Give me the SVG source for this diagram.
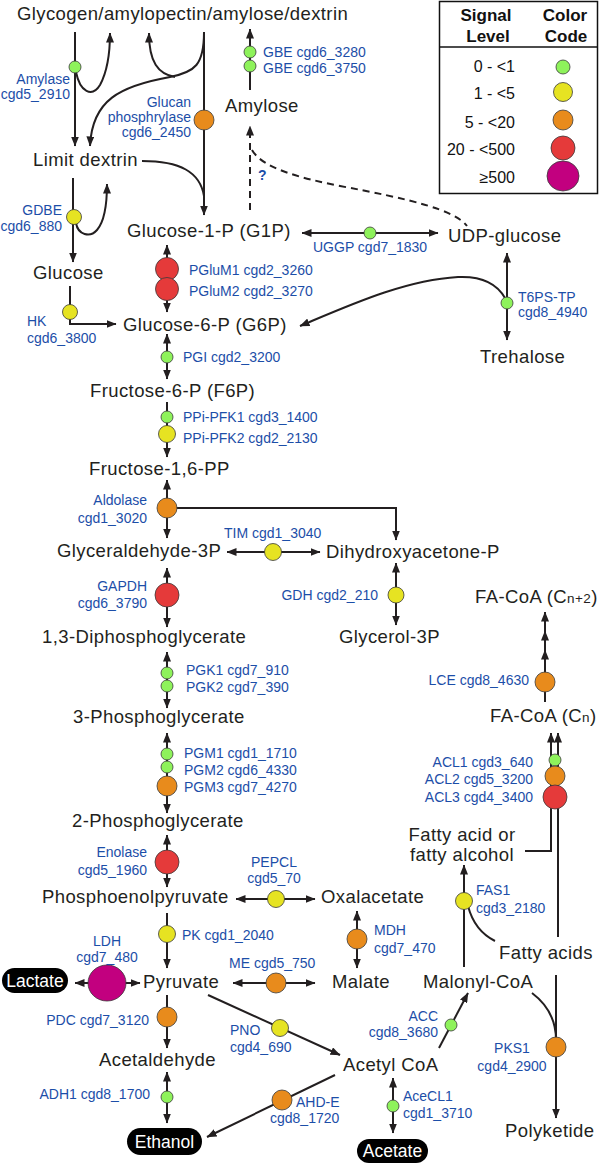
<svg xmlns="http://www.w3.org/2000/svg" width="600" height="1167" viewBox="0 0 600 1167">
<style>
.m{font-family:"Liberation Sans",Arial,sans-serif;font-size:18.5px;letter-spacing:0.4px;fill:#231f20}
.e{font-family:"Liberation Sans",Arial,sans-serif;font-size:14px;fill:#1c4ea8}
.lg{font-family:"Liberation Sans",Arial,sans-serif;font-size:16px;fill:#111}
.lh{font-family:"Liberation Sans",Arial,sans-serif;font-size:17px;font-weight:bold;fill:#111}
.pt{font-family:"Liberation Sans",Arial,sans-serif;font-size:17.5px;fill:#fff}
.ln{fill:none;stroke:#231f20;stroke-width:2}
.a{marker-end:url(#ah)}
.b{marker-start:url(#ah);marker-end:url(#ah)}
.d{stroke-dasharray:7 5}
.g{fill:#8ef25b;stroke:#3a3a3a;stroke-width:0.8}
.y{fill:#e6e322;stroke:#3a3a3a;stroke-width:0.8}
.o{fill:#e88b1c;stroke:#3a3a3a;stroke-width:0.8}
.r{fill:#e53a3a;stroke:#3a3a3a;stroke-width:0.8}
.p{fill:#c2007f;stroke:#3a3a3a;stroke-width:0.8}
</style>
<defs>
<marker id="ah" viewBox="0 0 10 8" refX="9.5" refY="4" markerWidth="10" markerHeight="8" markerUnits="userSpaceOnUse" orient="auto-start-reverse"><path d="M0,0 L10,4 L0,8 z" fill="#231f20"/></marker>
</defs>
<rect width="600" height="1167" fill="#fff"/>

<g id="connectors">
<path class="ln a" d="M75,32 L75,146"/>
<path class="ln a" d="M76,72 C80,92 92,98 100,85 C107,72 110,55 110,33"/>
<path class="ln a" d="M204,32 L204,215"/>
<path class="ln a" d="M204,32 C204,65 195,72 170,77 C120,86 92,100 90,146"/>
<path class="ln a" d="M175,77 C158,74 149,62 149,33"/>
<path class="ln" d="M142,161 C180,161 200,172 204,196"/>
<path class="ln a" d="M250,90 L250,29"/>
<path class="ln a d" d="M250,210 L250,126"/>
<path class="ln d" d="M252,150 C262,168 300,178 340,186 C410,199 455,210 467,226"/>
<path class="ln a" d="M73,178 L73,262"/>
<path class="ln a" d="M76,223 C78,235 90,238 97,230 C104,222 107,205 107,184"/>
<path class="ln a" d="M70,286 L70,324 L116,324"/>
<path class="ln b" d="M167,245 L167,312"/>
<path class="ln b" d="M302,233 L438,233"/>
<path class="ln b" d="M507,253 L507,340"/>
<path class="ln a" d="M505,298 C496,282 480,276 458,277 C405,280 350,305 300,326"/>
<path class="ln b" d="M167,334 L167,379"/>
<path class="ln a" d="M167,402 L167,457"/>
<path class="ln b" d="M167,480 L167,538"/>
<path class="ln a" d="M167,508 L396,508 L396,540"/>
<path class="ln b" d="M227,552 L320,552"/>
<path class="ln b" d="M396,563 L396,625"/>
<path class="ln b" d="M167,568 L167,627"/>
<path class="ln b" d="M167,652 L167,708"/>
<path class="ln b" d="M167,733 L167,813"/>
<path class="ln b" d="M167,835 L167,887"/>
<path class="ln a" d="M167,913 L167,968"/>
<path class="ln b" d="M236,899 L315,899"/>
<path class="ln b" d="M233,983 L315,983"/>
<path class="ln b" d="M357,911 L357,968"/>
<path class="ln b" d="M75,983 L140,983"/>
<path class="ln a" d="M167,995 L167,1048"/>
<path class="ln b" d="M167,1072 L167,1123"/>
<path class="ln a" d="M208,995 L340,1055"/>
<path class="ln a" d="M335,1075 L207,1137"/>
<path class="ln b" d="M393,1078 L393,1133"/>
<path class="ln a" d="M439,1048 L468,993"/>
<path class="ln a" d="M464,967 L464,865"/>
<path class="ln" d="M468,906 C473,925 483,935 495,941"/>
<path class="ln" d="M532,993 C548,1005 556,1020 556,1040"/>
<path class="ln a" d="M556,975 L556,1118"/>
<path class="ln a" d="M525,851 L551,851 L551,733"/>
<path class="ln a" d="M558,937 L558,733"/>
<path class="ln a" d="M545,702 L545,650"/>
<path class="ln a" d="M545,650 L545,631"/>
<path class="ln a" d="M545,631 L545,612"/>
</g>

<g id="metabolites">
<text class="m" x="17" y="20">Glycogen/amylopectin/amylose/dextrin</text>
<text class="m" x="225" y="112">Amylose</text>
<text class="m" x="33" y="166">Limit dextrin</text>
<text class="m" x="127" y="237">Glucose-1-P (G1P)</text>
<text class="m" x="448" y="242">UDP-glucose</text>
<text class="m" x="33" y="279">Glucose</text>
<text class="m" x="123" y="331">Glucose-6-P (G6P)</text>
<text class="m" x="480" y="363">Trehalose</text>
<text class="m" x="90" y="397">Fructose-6-P (F6P)</text>
<text class="m" x="89" y="475">Fructose-1,6-PP</text>
<text class="m" x="57" y="557">Glyceraldehyde-3P</text>
<text class="m" x="326" y="558">Dihydroxyacetone-P</text>
<text class="m" x="475" y="603">FA-CoA (C<tspan font-size="13.5">n+2</tspan>)</text>
<text class="m" x="339" y="643">Glycerol-3P</text>
<text class="m" x="42" y="643">1,3-Diphosphoglycerate</text>
<text class="m" x="490" y="722">FA-CoA (C<tspan font-size="13.5">n</tspan>)</text>
<text class="m" x="73" y="723">3-Phosphoglycerate</text>
<text class="m" x="72" y="827">2-Phosphoglycerate</text>
<text class="m" x="462" y="841" text-anchor="middle" font-size="18">Fatty acid or</text>
<text class="m" x="462" y="861" text-anchor="middle" font-size="18">fatty alcohol</text>
<text class="m" x="42" y="903">Phosphoenolpyruvate</text>
<text class="m" x="321" y="903">Oxalacetate</text>
<text class="m" x="499" y="959">Fatty acids</text>
<text class="m" x="143" y="988">Pyruvate</text>
<text class="m" x="332" y="988">Malate</text>
<text class="m" x="423" y="988">Malonyl-CoA</text>
<text class="m" x="99" y="1066">Acetaldehyde</text>
<text class="m" x="343" y="1071">Acetyl CoA</text>
<text class="m" x="505" y="1137">Polyketide</text>
</g>

<g id="lactate"><rect x="2" y="968" width="66" height="25" rx="12.5" fill="#000"/><text class="pt" x="35" y="987" text-anchor="middle">Lactate</text></g>
<g id="ethanol"><rect x="127" y="1128" width="75" height="27" rx="13.5" fill="#000"/><text class="pt" x="164.5" y="1148" text-anchor="middle">Ethanol</text></g>
<g id="acetate"><rect x="357" y="1139" width="71" height="24" rx="12" fill="#000"/><text class="pt" x="392.5" y="1157" text-anchor="middle">Acetate</text></g>

<g id="amylase"><circle class="g" cx="75" cy="67" r="6"/><text class="e" x="70" y="84" text-anchor="end">Amylase</text><text class="e" x="70" y="99" text-anchor="end">cgd5_2910</text></g>
<g id="glucan-phosphorylase"><circle class="o" cx="204" cy="120" r="10"/><text class="e" x="191" y="107" text-anchor="end">Glucan</text><text class="e" x="191" y="122" text-anchor="end">phosphrylase</text><text class="e" x="191" y="137" text-anchor="end">cgd6_2450</text></g>
<g id="gbe"><circle class="g" cx="250" cy="52" r="6"/><circle class="g" cx="250" cy="66" r="6"/><text class="e" x="263" y="57">GBE cgd6_3280</text><text class="e" x="263" y="73">GBE cgd6_3750</text></g>
<g id="unknown"><text class="e" x="258" y="180" font-weight="bold">?</text></g>
<g id="gdbe"><circle class="y" cx="74" cy="217" r="7.5"/><text class="e" x="62" y="215" text-anchor="end">GDBE</text><text class="e" x="62" y="231" text-anchor="end">cgd6_880</text></g>
<g id="pglum"><circle class="r" cx="167" cy="269" r="11.5"/><circle class="r" cx="167" cy="289" r="11.5"/><text class="e" x="189" y="275">PGluM1 cgd2_3260</text><text class="e" x="189" y="296">PGluM2 cgd2_3270</text></g>
<g id="uggp"><circle class="g" cx="370" cy="233" r="6"/><text class="e" x="313" y="252">UGGP cgd7_1830</text></g>
<g id="t6ps"><circle class="g" cx="507" cy="303" r="6"/><text class="e" x="518" y="302">T6PS-TP</text><text class="e" x="518" y="317">cgd8_4940</text></g>
<g id="hk"><circle class="y" cx="70" cy="312" r="7.5"/><text class="e" x="27" y="326">HK</text><text class="e" x="27" y="343">cgd6_3800</text></g>
<g id="pgi"><circle class="g" cx="167" cy="357" r="6"/><text class="e" x="183" y="362">PGI cgd2_3200</text></g>
<g id="pfk"><circle class="g" cx="167" cy="417" r="6"/><circle class="y" cx="167" cy="434" r="8.5"/><text class="e" x="183" y="422">PPi-PFK1 cgd3_1400</text><text class="e" x="183" y="443">PPi-PFK2 cgd2_2130</text></g>
<g id="aldolase"><circle class="o" cx="167" cy="508" r="10"/><text class="e" x="147" y="505" text-anchor="end">Aldolase</text><text class="e" x="147" y="523" text-anchor="end">cgd1_3020</text></g>
<g id="tim"><circle class="y" cx="273" cy="552" r="8.5"/><text class="e" x="224" y="538">TIM cgd1_3040</text></g>
<g id="gdh"><circle class="y" cx="396" cy="595" r="8"/><text class="e" x="378" y="600" text-anchor="end">GDH cgd2_210</text></g>
<g id="gapdh"><circle class="r" cx="167" cy="595" r="12"/><text class="e" x="147" y="591" text-anchor="end">GAPDH</text><text class="e" x="147" y="608" text-anchor="end">cgd6_3790</text></g>
<g id="pgk"><circle class="g" cx="167" cy="673" r="6"/><circle class="g" cx="167" cy="686" r="6"/><text class="e" x="186" y="675">PGK1 cgd7_910</text><text class="e" x="186" y="692">PGK2 cgd7_390</text></g>
<g id="lce"><circle class="o" cx="545" cy="682" r="10"/><text class="e" x="529" y="685" text-anchor="end">LCE cgd8_4630</text></g>
<g id="pgm"><circle class="g" cx="167" cy="754" r="6"/><circle class="g" cx="167" cy="767" r="6"/><circle class="o" cx="167" cy="786" r="10"/><text class="e" x="184" y="758">PGM1 cgd1_1710</text><text class="e" x="184" y="775">PGM2 cgd6_4330</text><text class="e" x="184" y="792">PGM3 cgd7_4270</text></g>
<g id="acl"><circle class="g" cx="555" cy="760" r="6"/><circle class="o" cx="555" cy="776" r="10"/><circle class="r" cx="555" cy="797" r="12"/><text class="e" x="533" y="767" text-anchor="end">ACL1 cgd3_640</text><text class="e" x="533" y="784" text-anchor="end">ACL2 cgd5_3200</text><text class="e" x="533" y="802" text-anchor="end">ACL3 cgd4_3400</text></g>
<g id="enolase"><circle class="r" cx="167" cy="862" r="12"/><text class="e" x="147" y="857" text-anchor="end">Enolase</text><text class="e" x="147" y="875" text-anchor="end">cgd5_1960</text></g>
<g id="pepcl"><circle class="y" cx="276" cy="899" r="8.5"/><text class="e" x="274" y="867" text-anchor="middle">PEPCL</text><text class="e" x="274" y="883" text-anchor="middle">cgd5_70</text></g>
<g id="fas1"><circle class="y" cx="464" cy="901" r="8.5"/><text class="e" x="476" y="895">FAS1</text><text class="e" x="476" y="913">cgd3_2180</text></g>
<g id="mdh"><circle class="o" cx="357" cy="939" r="10"/><text class="e" x="374" y="935">MDH</text><text class="e" x="374" y="953">cgd7_470</text></g>
<g id="pk"><circle class="y" cx="167" cy="934" r="8.5"/><text class="e" x="182" y="940">PK cgd1_2040</text></g>
<g id="ldh"><ellipse class="p" cx="107" cy="983" rx="19" ry="18"/><text class="e" x="107" y="946" text-anchor="middle">LDH</text><text class="e" x="107" y="962" text-anchor="middle">cgd7_480</text></g>
<g id="me"><circle class="o" cx="276" cy="983" r="10"/><text class="e" x="229" y="968">ME cgd5_750</text></g>
<g id="acc"><circle class="g" cx="451" cy="1025" r="6"/><text class="e" x="438" y="1021" text-anchor="end">ACC</text><text class="e" x="438" y="1037" text-anchor="end">cgd8_3680</text></g>
<g id="pdc"><circle class="o" cx="167" cy="1017" r="10"/><text class="e" x="149" y="1025" text-anchor="end">PDC cgd7_3120</text></g>
<g id="pno"><circle class="y" cx="280" cy="1028" r="8.5"/><text class="e" x="230" y="1035">PNO</text><text class="e" x="230" y="1052">cgd4_690</text></g>
<g id="pks1"><circle class="o" cx="556" cy="1047" r="10"/><text class="e" x="512" y="1053" text-anchor="middle">PKS1</text><text class="e" x="512" y="1071" text-anchor="middle">cgd4_2900</text></g>
<g id="adh1"><circle class="g" cx="167" cy="1097" r="6"/><text class="e" x="150" y="1099" text-anchor="end">ADH1 cgd8_1700</text></g>
<g id="acecl1"><circle class="g" cx="393" cy="1106" r="6"/><text class="e" x="403" y="1101">AceCL1</text><text class="e" x="403" y="1118">cgd1_3710</text></g>
<g id="ahde"><circle class="o" cx="282" cy="1100" r="10"/><text class="e" x="296" y="1107">AHD-E</text><text class="e" x="270" y="1123">cgd8_1720</text></g>

<g id="legend">
<rect x="439.5" y="1.5" width="158" height="192" fill="#fff" stroke="#111" stroke-width="1.5"/>
<line x1="439.5" y1="47" x2="597.5" y2="47" stroke="#111" stroke-width="1.5"/>
<text class="lh" x="486" y="21" text-anchor="middle">Signal</text>
<text class="lh" x="488" y="42" text-anchor="middle">Level</text>
<text class="lh" x="565" y="21" text-anchor="middle">Color</text>
<text class="lh" x="566" y="42" text-anchor="middle">Code</text>
<text class="lg" x="515" y="72" text-anchor="end">0 - &lt;1</text>
<text class="lg" x="515" y="99" text-anchor="end">1 - &lt;5</text>
<text class="lg" x="515" y="128" text-anchor="end">5 - &lt;20</text>
<text class="lg" x="515" y="155" text-anchor="end">20 - &lt;500</text>
<text class="lg" x="515" y="183" text-anchor="end">≥500</text>
<circle class="g" cx="563" cy="67" r="7"/>
<circle class="y" cx="563" cy="92" r="9.5"/>
<circle class="o" cx="563" cy="120" r="10"/>
<circle class="r" cx="563" cy="148" r="12"/>
<ellipse class="p" cx="563" cy="176" rx="16" ry="15"/>
</g>
</svg>
